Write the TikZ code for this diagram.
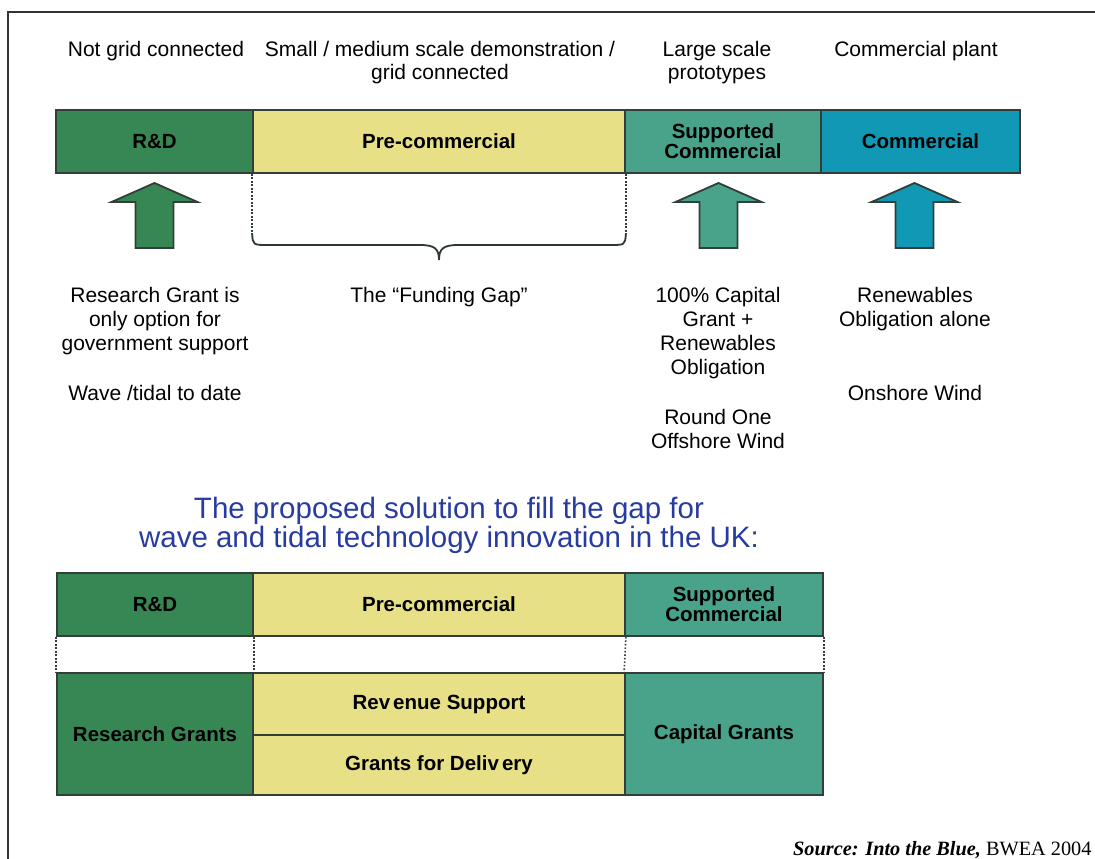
\documentclass[tikz,border=0pt]{standalone}
\usepackage{fontspec}
\setmainfont{Liberation Sans}
\newfontfamily\srcfont{Liberation Serif}
\definecolor{rdgreen}{RGB}{55,135,85}
\definecolor{preyellow}{RGB}{232,224,135}
\definecolor{supgreen}{RGB}{72,163,138}
\definecolor{comblue}{RGB}{16,152,180}
\definecolor{edge}{RGB}{50,62,55}
\definecolor{titleblue}{RGB}{40,60,160}
\begin{document}
\begin{tikzpicture}[x=1pt,y=-1pt,
  cell/.style={draw=edge, line width=1.8pt, inner sep=0pt, align=center,
    font=\fontsize{20.5}{20}\selectfont\bfseries},
  lbl/.style={align=center, inner sep=0pt, anchor=base,
    font=\fontsize{21}{24}\selectfont},
  dotline/.style={line width=1.6pt, dash pattern=on 1.6pt off 1.9pt, edge},
  bracepath/.style={line width=1.8pt, edge!90!black},
  upar/.pic={\draw[pic actions] (0,0) -- (43,19) -- (19,19) -- (19,65) -- (-19,65) -- (-19,19) -- (-43,19) -- cycle;}
]
\useasboundingbox (0,0) rectangle (1095,859);
\clip (0,0) rectangle (1095,859);
\fill[white] (0,0) rectangle (1095,859);
\draw[line width=1.3pt, black!80] (8,12) rectangle (1120,880);

% top labels (base anchor = baseline of last line)
\node[lbl] (t1) at (156,57) {Not grid connected};
\node[lbl] (t2) at (440,80) {Small / medium scale demonstration /\\grid connected};
\node[lbl] (t3) at (717,80) {Large scale\\prototypes};
\node[lbl] (t4) at (916,57) {Commercial plant};

% top bar
\node[cell, fill=rdgreen, minimum width=197pt, minimum height=63pt] (rd) at (154.5,141.5) {R\&D};
\node[cell, fill=preyellow, minimum width=372pt, minimum height=63pt] (pre) at (439,141.5) {Pre-commercial};
\node[cell, fill=supgreen, minimum width=196pt, minimum height=63pt] (sup) at (723,141.5) {Supported\\Commercial};
\node[cell, fill=comblue, minimum width=199pt, minimum height=63pt] (com) at (920.5,141.5) {Commercial};

% arrows
\pic[fill=rdgreen, draw=edge, line width=1.8pt] at (154.5,183) {upar};
\pic[fill=supgreen, draw=edge, line width=1.8pt] at (718.5,183) {upar};
\pic[fill=comblue, draw=edge, line width=1.8pt] at (914.5,183) {upar};

% funding gap brace
\draw[dotline] (pre.south west) -- ++(0,60) coordinate (bl);
\draw[dotline] (pre.south east) -- ++(0,60) coordinate (br);
\draw[bracepath] (bl) .. controls (253,245) .. (268,245) -- (420,245)
  .. controls (435,245) and (439,249) .. (439,260)
  .. controls (439,249) and (443,245) .. (458,245) -- (610,245)
  .. controls (625,245) .. (br);

% descriptions
\node[lbl] (d1) at (155,400) {Research Grant is\\only option for\\government support\\[26pt]Wave /tidal to date};
\node[lbl] (d2) at (439,302) {The “Funding Gap”};
\node[lbl] (d3) at (718,448) {100\% Capital\\Grant +\\Renewables\\Obligation\\[26pt]Round One\\Offshore Wind};
\node[lbl] (d4) at (915,400) {Renewables\\Obligation alone\\[50pt]Onshore Wind};

% title
\node[lbl, text=titleblue, font=\fontsize{29.5}{29}\selectfont] (title) at (449,547)
  {The proposed solution to fill the gap for\\wave and tidal technology innovation in the UK:};

% bottom table
\node[cell, fill=rdgreen, minimum width=196pt, minimum height=63pt] (b1) at (155,604.5) {R\&D};
\node[cell, fill=preyellow, minimum width=372pt, minimum height=63pt] (b2) at (439,604.5) {Pre-commercial};
\node[cell, fill=supgreen, minimum width=198pt, minimum height=63pt] (b3) at (724,604.5) {Supported\\Commercial};
\node[cell, fill=rdgreen, minimum width=196pt, minimum height=122pt] (c1) at (155,734) {Research Grants};
\node[cell, fill=preyellow, minimum width=372pt, minimum height=62pt] (c2) at (439,704) {Rev\kern3pt enue Support};
\node[cell, fill=preyellow, minimum width=372pt, minimum height=60pt] (c3) at (439,765) {Grants for Deliv\kern3pt ery};
\node[cell, fill=supgreen, minimum width=198pt, minimum height=122pt] (c4) at (724,734) {Capital Grants};
\draw[dotline] (b1.south west) -- (c1.north west);
\draw[dotline] (b1.south east) -- (c1.north east);
\draw[dotline] (b2.south east) -- (c4.north west);
\draw[dotline] (b3.south east) -- (c4.north east);

% source
\node[anchor=base west, inner sep=0pt, font=\srcfont\fontsize{20.3}{24}\selectfont] (src) at (793,855)
  {\textbf{\textit{Source: Into the Blue,}} BWEA 2004};
\end{tikzpicture}
\end{document}
